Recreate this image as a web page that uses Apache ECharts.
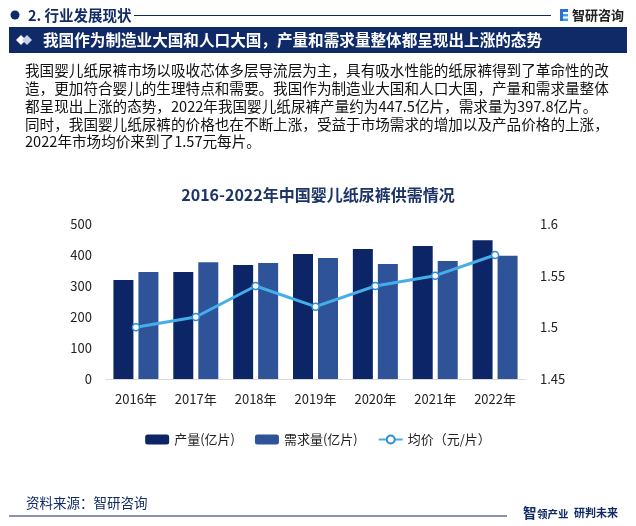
<!DOCTYPE html>
<html><head><meta charset="utf-8">
<script src="https://cdn.jsdelivr.net/npm/echarts@6/dist/echarts.min.js"></script>
<style>html,body{margin:0;padding:0;background:#fff}#c{width:636px;height:526px}</style>
</head><body><div id="c"></div>
<script>
const years = ['2016年','2017年','2018年','2019年','2020年','2021年','2022年'];
const production = [319, 345, 368, 403, 419, 429, 447.5];
const demand = [345, 377, 374, 390, 371, 381, 397.8];
const price = [1.50, 1.51, 1.54, 1.52, 1.54, 1.55, 1.57];
const leftTicks = {min: 0, max: 500, interval: 100};
const rightTicks = {min: 1.45, max: 1.6, interval: 0.05};
const paragraph = [
  '我国婴儿纸尿裤市场以吸收芯体多层导流层为主，具有吸水性能的纸尿裤得到了革命性的改',
  '造，更加符合婴儿的生理特点和需要。我国作为制造业大国和人口大国，产量和需求量整体',
  '都呈现出上涨的态势，2022年我国婴儿纸尿裤产量约为447.5亿片，需求量为397.8亿片。',
  '同时，我国婴儿纸尿裤的价格也在不断上涨，受益于市场需求的增加以及产品价格的上涨，',
  '2022年市场均价来到了1.57元每片。'
];
const NAVY = '#0f2a66';
const FONT = '"Noto Sans CJK SC","Noto Sans",sans-serif';

const chart = echarts.init(document.getElementById('c'), null, {renderer: 'canvas'});

const graphics = [
  {type:'circle', shape:{cx:15, cy:15, r:4.5}, style:{fill:NAVY}},
  {type:'text', x:28, y:15, style:{text:'2. 行业发展现状', font:'bold 14.5px '+FONT, fill:NAVY, textVerticalAlign:'middle'}},
  {type:'line', shape:{x1:134, y1:15.5, x2:551, y2:15.5}, style:{stroke:NAVY, lineWidth:1}},
  {type:'rect', shape:{x:560, y:9, width:3, height:12}, style:{fill:'#2b6fd0'}},
  {type:'rect', shape:{x:563, y:9, width:5, height:3}, style:{fill:'#2b6fd0'}},
  {type:'rect', shape:{x:563, y:14, width:5, height:2.5}, style:{fill:'#3aa0e8'}},
  {type:'rect', shape:{x:563, y:18.5, width:5, height:2.5}, style:{fill:'#3aa0e8'}},
  {type:'text', x:572, y:15, style:{text:'智研咨询', font:'bold 13px '+FONT, fill:'#222', textVerticalAlign:'middle'}},
  {type:'rect', shape:{x:9, y:27, width:618, height:26}, style:{fill:NAVY}},
  {type:'polygon', shape:{points:[[16,40],[21,35],[26,40],[21,45]]}, style:{fill:'#ffffff'}},
  {type:'polygon', shape:{points:[[22,40],[27,35],[32,40],[27,45]]}, style:{fill:'#c9d3e6'}},
  {type:'text', x:43, y:40.5, style:{text:'我国作为制造业大国和人口大国，产量和需求量整体都呈现出上涨的态势', font:'bold 15.6px '+FONT, fill:'#ffffff', textVerticalAlign:'middle'}},
  {type:'text', x:26, y:503, style:{text:'资料来源：智研咨询', font:'13.5px '+FONT, fill:NAVY, textVerticalAlign:'middle'}},
  {type:'line', shape:{x1:9, y1:516, x2:507, y2:516}, style:{stroke:NAVY, lineWidth:1.2}},
  {type:'text', x:523, y:513, style:{text:'智', font:'bold 13.5px '+FONT, fill:NAVY, textVerticalAlign:'middle'}},
  {type:'text', x:537, y:514, style:{text:'领产业', font:'bold 10.5px '+FONT, fill:NAVY, textVerticalAlign:'middle'}},
  {type:'text', x:574, y:513, style:{text:'研判未来', font:'bold 11px '+FONT, fill:NAVY, textVerticalAlign:'middle'}}
];
const lineYs = [70, 88, 106, 124, 141];
paragraph.forEach((t, i) => {
  graphics.push({type:'text', x:25, y:lineYs[i], style:{text:t, font:'14.6px '+FONT, fill:'#111', textVerticalAlign:'middle'}});
});

chart.setOption({
  backgroundColor: '#fff',
  animation: false,
  textStyle: {fontFamily: FONT},
  title: {
    text: '2016-2022年中国婴儿纸尿裤供需情况',
    left: 'center', top: 182,
    textStyle: {fontSize: 16, fontWeight: 'bold', color: '#1c3467', fontFamily: FONT}
  },
  legend: {
    left: 'center', top: 428,
    itemWidth: 24, itemHeight: 10, itemGap: 20,
    textStyle: {fontSize: 13, color: '#222', fontFamily: FONT},
    data: ['产量(亿片)', '需求量(亿片)', '均价（元/片）']
  },
  grid: {left: 106, right: 111, top: 224, bottom: 147, containLabel: false},
  xAxis: {
    type: 'category', data: years,
    axisLine: {lineStyle: {color: '#d9d9d9'}},
    axisTick: {show: false},
    axisLabel: {fontSize: 13, color: '#222', margin: 14}
  },
  yAxis: [
    {type: 'value', min: leftTicks.min, max: leftTicks.max, interval: leftTicks.interval,
     splitLine: {show: false}, axisLine: {show: false}, axisTick: {show: false},
     axisLabel: {fontSize: 13, color: '#222', margin: 14}},
    {type: 'value', min: rightTicks.min, max: rightTicks.max, interval: rightTicks.interval,
     splitLine: {show: false}, axisLine: {show: false}, axisTick: {show: false},
     axisLabel: {fontSize: 13, color: '#222', margin: 15, formatter: v => String(+v.toFixed(2))}}
  ],
  series: [
    {name: '产量(亿片)', type: 'bar', data: production, barWidth: 20, barGap: '25%',
     itemStyle: {color: '#0c2566'}},
    {name: '需求量(亿片)', type: 'bar', data: demand, barWidth: 20,
     itemStyle: {color: '#2f5398'}},
    {name: '均价（元/片）', type: 'line', yAxisIndex: 1, data: price,
     symbol: 'circle', symbolSize: 7, showSymbol: true,
     lineStyle: {color: '#45aee9', width: 3},
     itemStyle: {color: '#ffffff', borderColor: '#2a8ed6', borderWidth: 1.5}}
  ],
  graphic: graphics
});
</script></body></html>
